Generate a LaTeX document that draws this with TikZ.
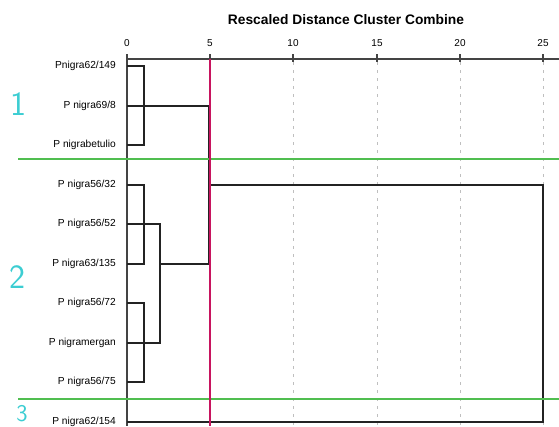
\documentclass[tikz,border=0pt]{standalone}
\usepackage{fontspec}
\setmainfont{Liberation Sans}
\definecolor{cutred}{RGB}{200,20,95}
\definecolor{grpgreen}{RGB}{80,190,80}
\definecolor{numcyan}{RGB}{60,205,210}
\definecolor{dendro}{RGB}{35,35,35}
\tikzset{
  leaf/.style={anchor=east,inner sep=0pt,font=\fontsize{10.2}{11}\selectfont},
  ticklab/.style={inner sep=0pt,font=\fontsize{10}{11}\selectfont},
  titlelab/.style={inner sep=0pt,font=\fontsize{13.8}{15}\selectfont\bfseries},
  grpnum/.style={inner sep=0pt,text=numcyan,font=\fontsize{34}{34}\sffamily},
  dline/.style={draw=dendro,line width=1.9pt},
  axisline/.style={draw=dendro!85,line width=1.2pt},
  gridline/.style={draw=black!25,line width=0.8pt,dash pattern=on 3pt off 5pt},
  grpline/.style={draw=grpgreen,line width=1.2pt},
  cutline/.style={draw=cutred,line width=2pt}
}
\begin{document}
\begin{tikzpicture}[x=1pt,y=-1pt]
\useasboundingbox (0,0) rectangle (559,426);
\clip (0,0) rectangle (559,426);

% title and axis
\node[titlelab] (title) at (346,20) {Rescaled Distance Cluster Combine};
\foreach \v/\xx in {0/127,5/210,10/293,15/377,20/460,25/543}{
  \node[ticklab] (t\v) at (\xx,43) {\v};
  \coordinate (tk\v) at (\xx,59);
  \coordinate (tt\v) at (\xx,54);
  \coordinate (tb\v) at (\xx,62);
  \coordinate (gb\v) at (\xx,426);
}
\coordinate (axend) at (559,59);

% dotted grid
\foreach \v in {10,15,20,25}{
  \draw[gridline] (tb\v) -- (gb\v);
}

% axis
\draw[axisline] (tk0) -- (axend);
\foreach \v in {0,5,10,15,20,25}{
  \draw[axisline] (tt\v) -- (tb\v);
}
\draw[axisline] (tk0) -- (gb0);

% leaves
\foreach \i/\yy/\txt in {1/66/Pnigra62\slash149,2/106/P nigra69\slash8,3/145/P nigrabetulio,
  4/185/P nigra56\slash32,5/224/P nigra56\slash52,6/264/P nigra63\slash135,
  7/303/P nigra56\slash72,8/343/P nigramergan,9/382/P nigra56\slash75,10/422/P nigra62\slash154}{
  \node[leaf] (n\i) at (116,\yy) {\txt};
  \coordinate (s\i) at (127,\yy);
  \coordinate (a\i) at (144,\yy);
  \coordinate (b\i) at (160,\yy);
  \coordinate (c\i) at (209,\yy);
  \coordinate (d\i) at (543,\yy);
}

% cluster 1
\draw[dline] (s1) -- (a1) -- (a3) -- (s3);
\draw[dline] (s2) -- (c2);
% cluster 2
\draw[dline] (s4) -- (a4) -- (a6) -- (s6);
\draw[dline] (s7) -- (a7) -- (a9) -- (s9);
\draw[dline] (s5) -- (b5) -- (b8) -- (s8);
\draw[dline] (b6) -- (c6);
% top merges
\draw[dline] (c2) -- (c6);
\draw[dline] (c4) -- (d4) -- (d10) -- (s10);

% group separators
\coordinate (g1a) at (18,159); \coordinate (g1b) at (559,159);
\coordinate (g2a) at (18,399); \coordinate (g2b) at (559,399);
\draw[grpline] (g1a) -- (g1b);
\draw[grpline] (g2a) -- (g2b);

% cut line
\coordinate (cutT) at (209.5,59);
\coordinate (cutB) at (209.5,426);
\draw[cutline] (cutT) -- (cutB);

% group numbers
\node[grpnum] (g1) at (18,104) {1};
\node[grpnum] (g2) at (17,277) {2};
\node[grpnum,font=\fontsize{24}{24}\sffamily] (g3) at (22,414) {3};
\end{tikzpicture}
\end{document}
